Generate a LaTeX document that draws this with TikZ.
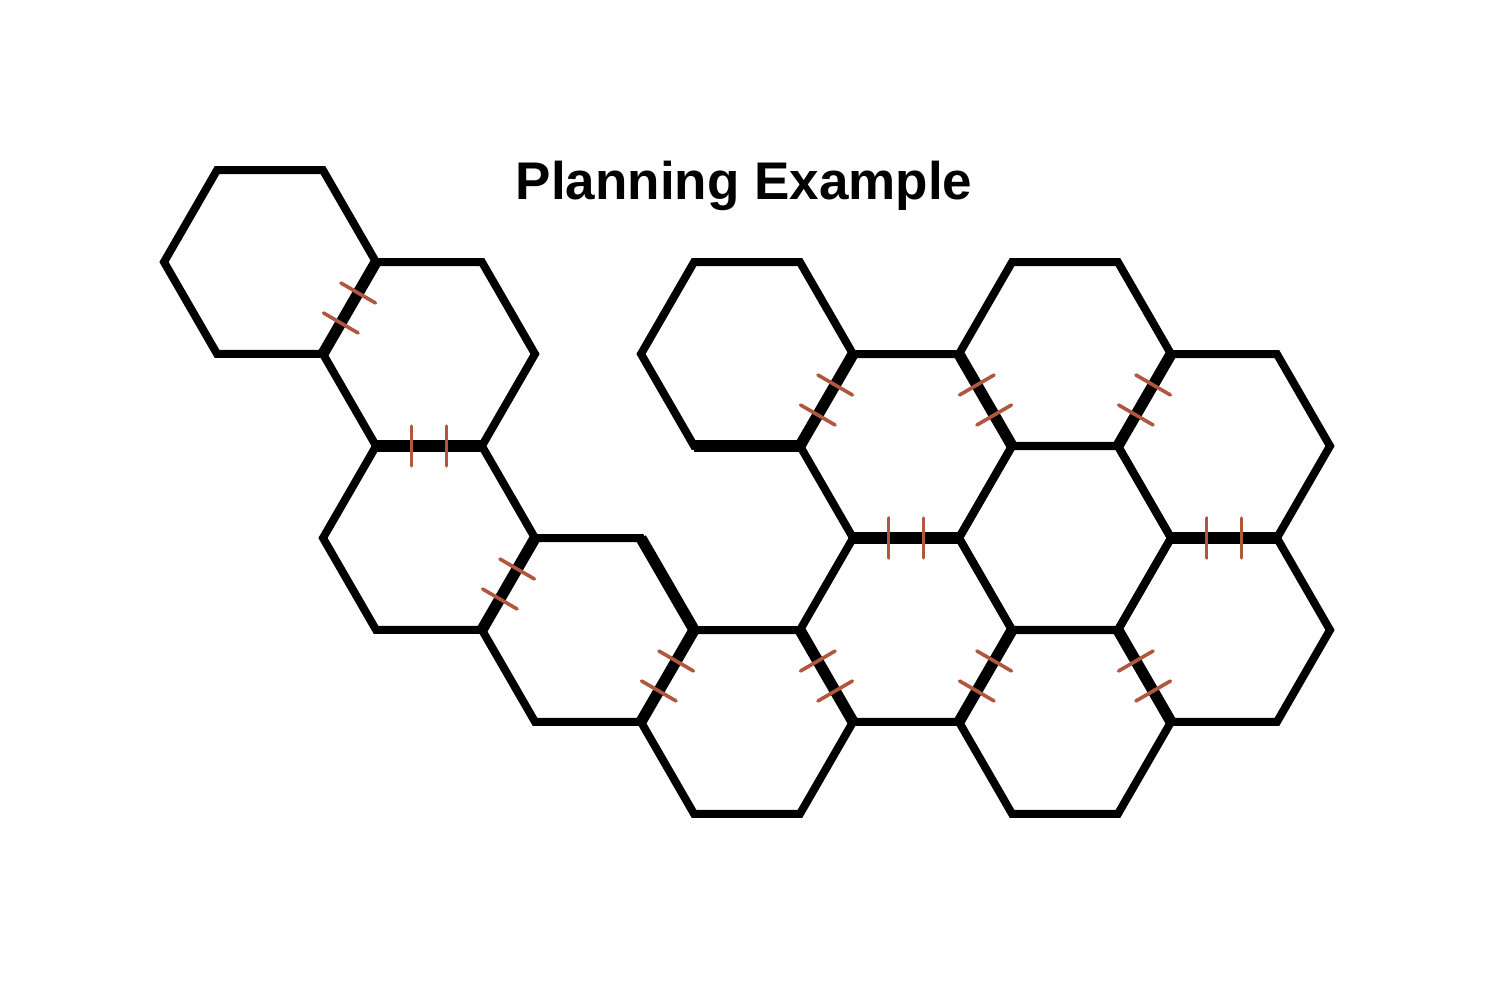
\documentclass[tikz,border=0pt]{standalone}
\usepackage{fontspec}
\setmainfont{Liberation Sans}
\usetikzlibrary{calc}
\definecolor{tickbrown}{RGB}{175,88,62}

% thick edge shared by the cells #1 and #2
\newcommand\hexedge[2]{%
  \coordinate (m) at ($(#1)!0.5!(#2)$);
  \draw[shared] ($(m)!26.5pt!90:(#2)$) -- ($(m)!26.5pt!-90:(#2)$);
}
% shared edge with two ticks across it
\newcommand\tickpair[2]{%
  \hexedge{#1}{#2}
  \foreach \a in {41,-41} {
    \draw[tick] ($(m)!13.2pt!\a:(#2)$) -- ($(m)!13.2pt!{180-\a}:(#2)$);
  }
}

\begin{document}
\begin{tikzpicture}[x=0.5pt,y=-0.5pt,
    hexline/.style={line width=4pt},
    shared/.style={line width=5.6pt},
    tick/.style={line width=1.8pt,draw=tickbrown,line cap=round},
  ]
  \useasboundingbox (0,0) rectangle (1506,989);

  \node[font=\bfseries\fontsize{26.5}{30}\selectfont] (title) at (744,186) {Planning Example};

  % cells, column / row
  \foreach \c/\k in {0/0,1/1,1/3,2/4,3/5,3/1,4/2,4/4,5/1,5/3,5/5,6/2,6/4} {
    \coordinate (h\c\k) at ({270+159*\c},{262+92*\k});
    \draw[hexline] (h\c\k) ++(0:53pt) -- ++(120:53pt) -- ++(180:53pt)
      -- ++(240:53pt) -- ++(300:53pt) -- ++(0:53pt) -- cycle;
  }
  \coordinate (h33) at ({270+159*3},{262+92*3});

  \hexedge{h24}{h33}
  \hexedge{h31}{h33}

  \tickpair{h00}{h11}
  \tickpair{h11}{h13}
  \tickpair{h13}{h24}
  \tickpair{h24}{h35}
  \tickpair{h35}{h44}
  \tickpair{h31}{h42}
  \tickpair{h42}{h51}
  \tickpair{h51}{h62}
  \tickpair{h42}{h44}
  \tickpair{h62}{h64}
  \tickpair{h44}{h55}
  \tickpair{h64}{h55}
\end{tikzpicture}
\end{document}
